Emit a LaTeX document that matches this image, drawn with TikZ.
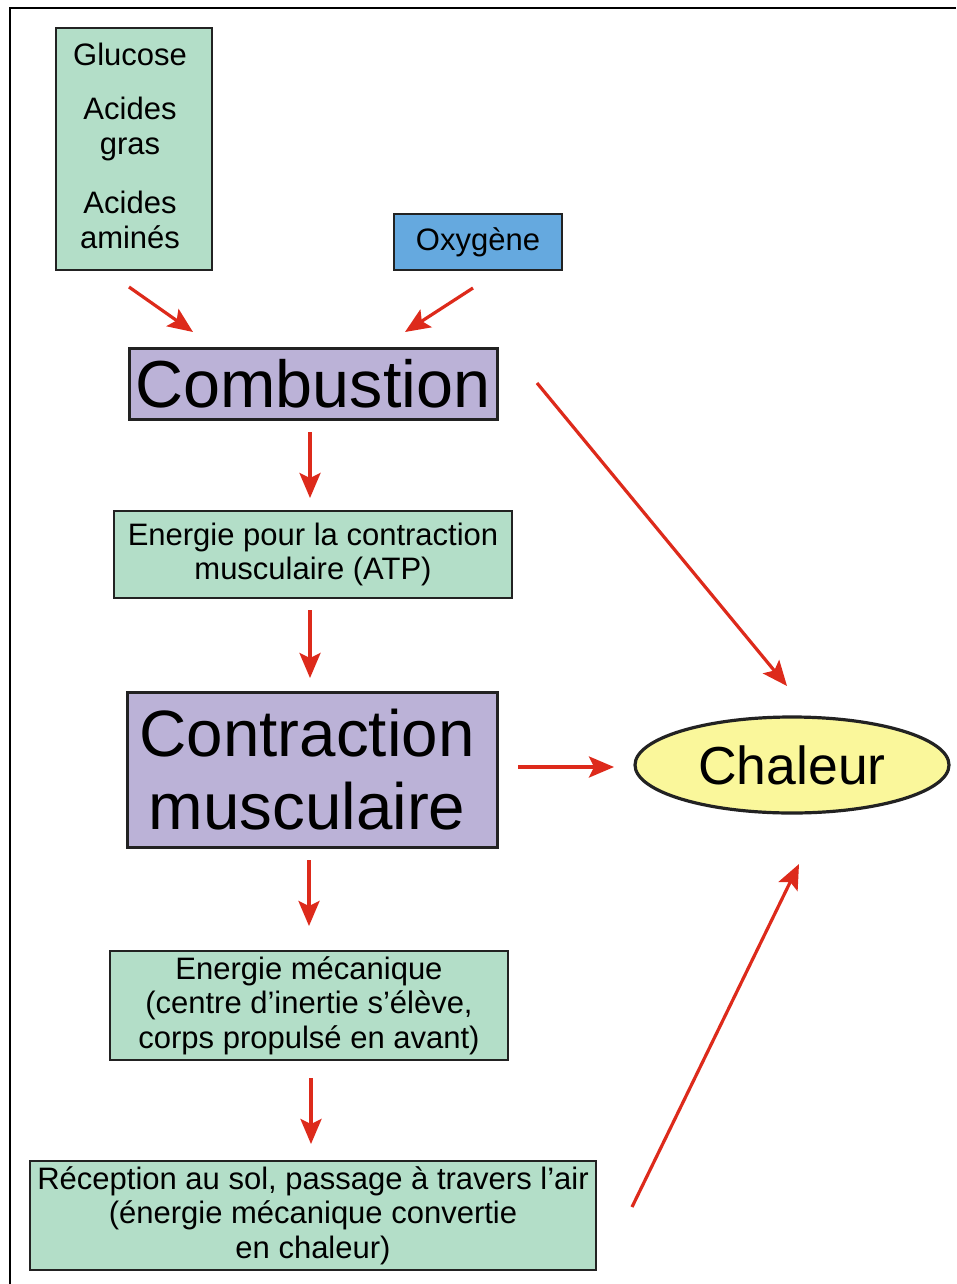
\documentclass[tikz,border=0pt]{standalone}
\usepackage{fontspec}
\setmainfont{Liberation Sans}
\usetikzlibrary{arrows.meta,shapes.geometric}
\definecolor{gbox}{HTML}{B3DEC8}
\definecolor{pbox}{HTML}{BBB2D7}
\definecolor{bbox}{HTML}{65A9DF}
\definecolor{ybox}{HTML}{FAF79B}
\definecolor{redarrow}{HTML}{DD2A1B}
\definecolor{edgecol}{HTML}{222222}
\begin{document}
\begin{tikzpicture}[x=1pt,y=-1pt,
  smalltext/.style={font=\fontsize{31}{34.5}\selectfont},
  greenbox/.style={draw=edgecol, line width=1.5pt, fill=gbox, inner sep=0pt, align=center, smalltext},
  bluebox/.style={draw=edgecol, line width=1.5pt, fill=bbox, inner sep=0pt, align=center, smalltext},
  purplebox/.style={draw=edgecol, line width=3pt, fill=pbox, inner sep=0pt, align=center},
  heatnode/.style={ellipse, draw=edgecol, line width=3.2pt, fill=ybox, inner sep=0pt, font=\fontsize{53.5}{60}\selectfont},
  redarr/.style={draw=redarrow, line width=3.2pt, -{Stealth[length=25pt,width=21pt,inset=5pt]}},
]
\fill[white] (0,0) rectangle (956,1284);
\useasboundingbox (0,0) rectangle (956,1284);
\draw[line width=2pt] (10,1284) -- (10,8) -- (956,8);

\node[greenbox, minimum width=156pt, minimum height=242pt] (fuel) at (134,149) {};
\node[smalltext, align=center, inner sep=0pt] (fueltext) at (130,145.5)
  {Glucose\\[20pt]Acides\\gras\\[25pt]Acides\\aminés};
\node[bluebox, minimum width=168pt, minimum height=56pt] (oxy) at (478,242) {\raisebox{-2pt}{Oxygène}};
\node[purplebox, minimum width=368pt, minimum height=71pt, font=\fontsize{66.5}{73}\selectfont] (comb) at (313,383.5) {Combustion};
\node[greenbox, minimum width=398pt, minimum height=87pt] (atp) at (313,554.5)
  {Energie pour la contraction\\musculaire (ATP)};
\node[purplebox, minimum width=370pt, minimum height=155pt] (contr) at (312,769.5) {};
\node[font=\fontsize{65.5}{73}\selectfont, align=center, inner sep=0pt] (contrtext) at (307,769.5)
  {Contraction\\musculaire};
\node[heatnode, minimum width=314pt, minimum height=96pt] (heat) at (792,765) {Chaleur};
\node[greenbox, minimum width=398pt, minimum height=109pt] (meca) at (309,1005.5)
  {Energie mécanique\\(centre d’inertie s’élève,\\corps propulsé en avant)};
\node[greenbox, minimum width=566pt, minimum height=109pt] (recep) at (313,1215.5)
  {Réception au sol, passage à travers l’air\\(énergie mécanique convertie\\en chaleur)};

\coordinate (a1s) at (129,287); \coordinate (a1e) at (193,332);
\coordinate (a2s) at (473,288); \coordinate (a2e) at (405,332);
\coordinate (a3s) at (310,432); \coordinate (a3e) at (310,498);
\coordinate (a4s) at (310,610); \coordinate (a4e) at (310,678);
\coordinate (a5s) at (518,767); \coordinate (a5e) at (614,767);
\coordinate (a6s) at (309,860); \coordinate (a6e) at (309,926);
\coordinate (a7s) at (311,1078); \coordinate (a7e) at (311,1144);
\coordinate (a8s) at (537,383); \coordinate (a8e) at (787,686);
\coordinate (a9s) at (632,1207); \coordinate (a9e) at (799,864);

\draw[redarr] (a1s) -- (a1e);
\draw[redarr] (a2s) -- (a2e);
\draw[redarr] (a3s) -- (a3e);
\draw[redarr] (a4s) -- (a4e);
\draw[redarr] (a5s) -- (a5e);
\draw[redarr] (a6s) -- (a6e);
\draw[redarr] (a7s) -- (a7e);
\draw[redarr] (a8s) -- (a8e);
\draw[redarr] (a9s) -- (a9e);
\end{tikzpicture}
\end{document}
